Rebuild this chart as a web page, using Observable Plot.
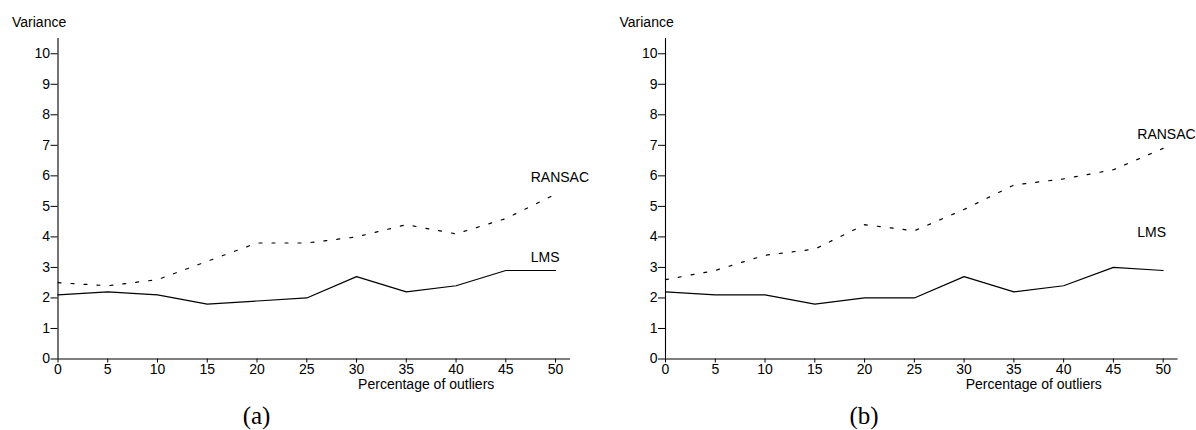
<!DOCTYPE html>
<html><head><meta charset="utf-8">
<script src="https://cdn.jsdelivr.net/npm/d3@7"></script>
<script src="https://cdn.jsdelivr.net/npm/@observablehq/plot@0.6"></script>
<style>
body{margin:0;background:#fff;}
#wrap{position:relative;width:1196px;height:430px;overflow:hidden;background:#fff;}
.panel{position:absolute;top:0;}
.cap{position:absolute;top:403px;font-family:"Liberation Serif","Times New Roman",serif;font-size:25px;line-height:25px;transform:translateX(-50%);color:#000;}
</style></head><body><div id="wrap"></div>
<script>
const outliers = [0, 5, 10, 15, 20, 25, 30, 35, 40, 45, 50];
const lmsA    = [2.1, 2.2, 2.1, 1.8, 1.9, 2.0, 2.7, 2.2, 2.4, 2.9, 2.9];
const ransacA = [2.5, 2.4, 2.6, 3.2, 3.8, 3.8, 4.0, 4.4, 4.1, 4.6, 5.4];
const lmsB    = [2.2, 2.1, 2.1, 1.8, 2.0, 2.0, 2.7, 2.2, 2.4, 3.0, 2.9];
const ransacB = [2.6, 2.9, 3.4, 3.6, 4.4, 4.2, 4.9, 5.7, 5.9, 6.2, 6.9];
const yTicks = [0, 1, 2, 3, 4, 5, 6, 7, 8, 9, 10];
const xTicks = [0, 5, 10, 15, 20, 25, 30, 35, 40, 45, 50];
const seriesNames = ["RANSAC", "LMS"];
const labelA = [{name: "RANSAC", x: 47.5, y: 5.93}, {name: "LMS", x: 47.5, y: 3.34}];
const labelB = [{name: "RANSAC", x: 47.4, y: 7.36}, {name: "LMS", x: 47.4, y: 4.13}];
const captions = ["(a)", "(b)"];
const yTitle = "Variance";
const xTitle = "Percentage of outliers";

const FONT = '"Liberation Sans", Arial, Helvetica, sans-serif';

function panel(lms, ransac, labels, left, mLeft, mRight) {
  const lmsData = outliers.map((x, i) => ({x, y: lms[i]}));
  const ranData = outliers.map((x, i) => ({x, y: ransac[i]}));
  const p = Plot.plot({
    width: 598, height: 400,
    marginLeft: mLeft, marginRight: mRight, marginTop: 38, marginBottom: 41.5,
    style: {fontFamily: FONT, fontSize: "14px", color: "#000", background: "transparent", overflow: "visible"},
    x: {domain: [0, 51.5]},
    y: {domain: [0, 10.5]},
    marks: [
      Plot.ruleX([0], {y1: 0, y2: 10.5, stroke: "#000", strokeWidth: 1.1}),
      Plot.ruleY([0], {x1: 0, x2: 51.5, stroke: "#000", strokeWidth: 1.1}),
      Plot.axisY(yTicks, {tickSize: 7, tickPadding: 1, label: null, fontSize: 14, stroke: "#000"}),
      Plot.axisX(xTicks, {tickSize: 4, tickPadding: 1, label: null, fontSize: 14, stroke: "#000"}),
      Plot.line(lmsData, {x: "x", y: "y", stroke: "#000", strokeWidth: 1.2}),
      Plot.line(ranData, {x: "x", y: "y", stroke: "#000", strokeWidth: 1.2, strokeDasharray: "3,10"}),
      Plot.text(labels, {x: "x", y: "y", text: "name", textAnchor: "start", fontSize: 14, fill: "#000"}),
      Plot.text([yTitle], {frameAnchor: "top-left", textAnchor: "start", dx: -46, dy: -21, fontSize: 14, fill: "#000"}),
      Plot.text([xTitle], {x: [37], frameAnchor: "bottom", dy: 30, fontSize: 14, fill: "#000"})
    ]
  });
  p.classList.add("panel");
  p.style.left = left + "px";
  return p;
}

const wrap = document.getElementById("wrap");
const pa = panel(lmsA, ransacA, labelA, 0, 57.5, 28);
const pb = panel(lmsB, ransacB, labelB, 598, 67, 18.4);
wrap.appendChild(pa);
wrap.appendChild(pb);
[[pa, 0], [pb, 598]].forEach(([p, left], i) => {
  const c = document.createElement("div");
  c.className = "cap";
  c.textContent = captions[i];
  c.style.left = (left + p.scale("x").apply(20)) + "px";
  wrap.appendChild(c);
});
</script></body></html>
